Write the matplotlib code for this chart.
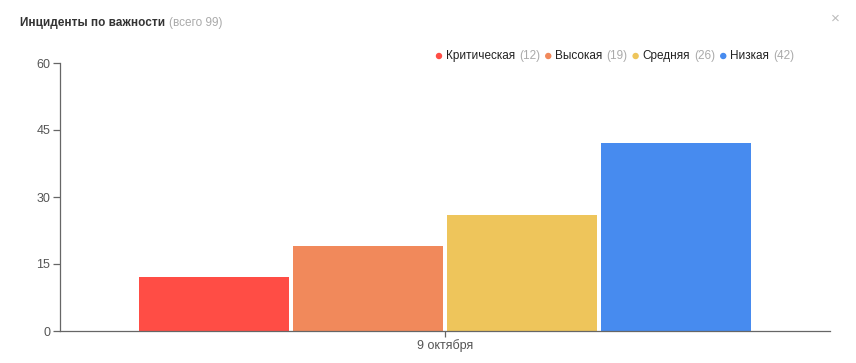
import matplotlib
matplotlib.use("Agg")
import matplotlib.pyplot as plt

plt.rcParams['font.family'] = ['Liberation Sans', 'DejaVu Sans']

categories = ["9 октября"]
series_names = ["Критическая", "Высокая", "Средняя", "Низкая"]
series_values = [12, 19, 26, 42]
colors = ["#FF4D45", "#F1895B", "#EEC55B", "#478BEF"]
yticks = [0, 15, 30, 45, 60]
total = sum(series_values)

W, H = 856, 363
fig = plt.figure(figsize=(W / 100, H / 100), dpi=100)
ax = fig.add_axes([60 / W, 1 - 331 / H, (830 - 60) / W, (331 - 63) / H])

bw = 150 / 770
gap = 4 / 770
n = len(series_values)
group = n * bw + (n - 1) * gap
for i, (v, c) in enumerate(zip(series_values, colors)):
    x = -group / 2 + i * (bw + gap) + bw / 2
    ax.bar(0 + x, v, width=bw, color=c, zorder=2)

ax.set_xlim(-0.5, 0.5)
ax.set_ylim(0, 60)
ax.set_yticks(yticks)
ax.set_xticks([0])
ax.set_xticklabels(categories)
for s in ["top", "right"]:
    ax.spines[s].set_visible(False)
for s in ["left", "bottom"]:
    ax.spines[s].set_color("#666666")
    ax.spines[s].set_linewidth(0.9)
ax.tick_params(axis="both", colors="#666666", labelcolor="#555555", labelsize=9,
               length=5, width=0.9, pad=2)
ax.tick_params(axis="x", length=4, pad=2)

fs = 8.5
# Title
fig.canvas.draw()
r = fig.canvas.get_renderer()
ty = 1 - 26 / H
t = fig.text(20 / W, ty, "Инциденты по важности", fontsize=fs, fontweight="bold",
             color="#333333", va="baseline", ha="left")
bb = t.get_window_extent(r)
fig.text((bb.x1 + 4) / W, ty, f"(всего {total})", fontsize=fs, color="#AAAAAA",
         va="baseline", ha="left")

# close cross
fig.text(835 / W, 1 - 19 / H, "×", fontsize=11, color="#BBBBBB", va="center", ha="center")

# Legend
ly = 1 - 59 / H
x = 436
for name, v, c in zip(series_names, series_values, colors):
    fig.patches.append(matplotlib.patches.Circle((x + 3, H - 56), 2.5, color=c,
                                                 transform=None, figure=fig))
    t1 = fig.text((x + 10) / W, ly, name, fontsize=fs, color="#222222", va="baseline", ha="left")
    b1 = t1.get_window_extent(r)
    t2 = fig.text((b1.x1 + 4) / W, ly, f"({v})", fontsize=fs, color="#AAAAAA",
                  va="baseline", ha="left")
    b2 = t2.get_window_extent(r)
    x = b2.x1 + 5

fig.savefig("out.png", dpi=100)
